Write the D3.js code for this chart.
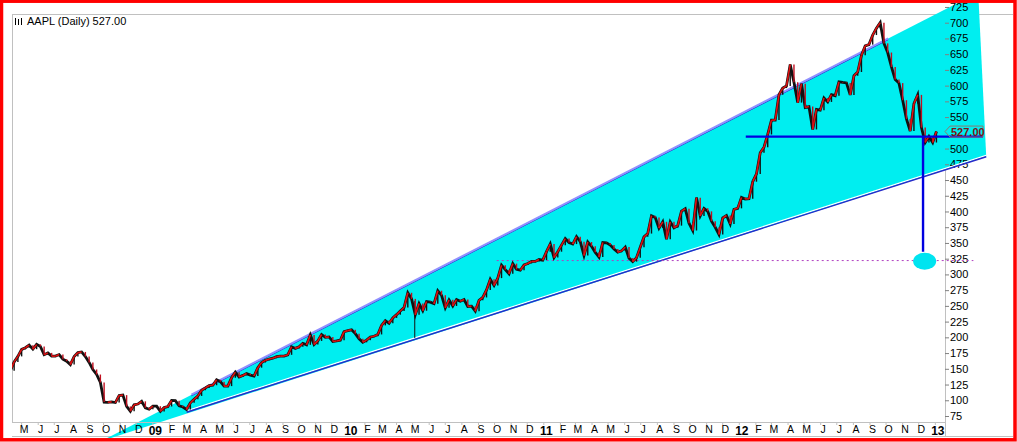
<!DOCTYPE html>
<html>
<head>
<meta charset="utf-8">
<script src="https://cdn.jsdelivr.net/npm/d3@7"></script>
<style>
  body { margin: 0; background: #fff; }
  svg { display: block; font-family: "Liberation Sans", Arial, sans-serif; }
</style>
</head>
<body>
<svg id="chart" width="1017" height="442"></svg>
<script>
// weekly closes (Friday), AAPL daily chart
const closes2008 = [147.1, 161.0, 169.7, 180.9, 183.5, 187.6, 181.2, 188.8,
  185.6, 172.4, 175.3, 170.1, 170.1, 172.6, 165.2, 162.1, 156.7, 169.6, 175.7,
  176.8, 169.5, 160.2, 148.9, 140.9, 128.2, 97.1, 96.8, 97.4, 96.4, 107.6,
  108.2, 90.2, 82.6, 92.7, 94.0, 98.3, 88.0, 85.8];
const closes2009 = [90.8, 90.6, 82.3, 88.4, 90.1, 99.7, 99.3, 91.2, 89.3,
  85.3, 95.9, 101.6, 106.9, 116.0, 119.6, 123.4, 123.9, 132.5, 129.6, 122.4,
  122.5, 135.8, 144.7, 137.0, 139.5, 142.4, 140.0, 138.5, 151.8, 160.0, 163.4,
  165.5, 166.8, 169.2, 170.1, 170.3, 172.2, 185.0, 182.4, 184.9, 190.5, 188.1,
  203.9, 188.5, 194.3, 204.5, 199.9, 200.6, 193.3, 194.2, 195.4, 209.0];
const closes2010 = [210.7, 212.0, 205.9, 197.8, 192.1, 195.5, 200.4, 201.7,
  204.6, 219.0, 226.6, 222.3, 230.9, 236.0, 241.8, 247.4, 270.8, 261.1, 235.9,
  253.8, 242.3, 256.9, 256.0, 253.5, 274.1, 266.7, 246.9, 259.6, 249.9, 259.9,
  257.3, 260.1, 249.1, 249.6, 241.6, 258.8, 263.4, 275.4, 292.3, 282.5, 294.1,
  314.7, 307.5, 301.0, 317.1, 308.0, 306.7, 315.0, 317.4, 320.6, 320.6, 323.6,
  322.6];
const closes2011 = [336.1, 348.5, 326.7, 336.1, 346.5, 356.9, 350.6, 348.2,
  360.0, 352.0, 330.0, 351.5, 344.6, 335.1, 327.5, 350.7, 350.1, 346.7, 340.5,
  335.2, 337.4, 343.4, 325.9, 320.3, 326.4, 343.3, 359.7, 364.9, 393.3, 390.5,
  373.6, 383.6, 356.0, 383.6, 374.1, 377.5, 400.5, 404.3, 381.3, 369.8, 422.0,
  392.9, 405.0, 400.2, 384.6, 374.9, 363.6, 389.7, 393.6, 380.0, 403.4, 405.0];
const closes2012 = [422.4, 419.8, 420.3, 447.3, 459.7, 493.4, 502.1, 522.4,
  545.2, 545.2, 585.6, 596.1, 599.6, 633.7, 605.2, 573.0, 603.0, 565.3, 566.7,
  530.4, 562.3, 561.0, 580.3, 574.1, 585.7, 584.0, 605.9, 605.0, 604.3, 585.2,
  615.7, 621.7, 648.1, 663.2, 665.2, 680.4, 691.3, 700.1, 667.1, 652.6, 629.7,
  609.8, 604.0, 576.8, 547.1, 527.7, 571.5, 585.3, 533.3, 509.8, 519.3, 509.6];
const closes2013 = [527.00];
const firstFriday = "2008-04-11";

// single-day spike visible in the picture (May 2010)
const spikes = [{ date: "2010-05-06", low: 199, high: 258 }];

const monthLetters = ["J", "F", "M", "A", "M", "J", "J", "A", "S", "O", "N", "D"];
const priceTicks = d3.range(75, 726, 25);

// drawn objects (date, price)
const wedge = [
  { date: "2008-09-27", price: 35 },
  { date: "2013-03-23", price: 748 },
  { date: "2013-04-07", price: 487 }
];
const upperTrend = [{ date: "2009-03-15", price: 109 }, { date: "2012-10-06", price: 675 }];
const lowerTrend = [{ date: "2009-03-06", price: 81 }, { date: "2013-04-07", price: 487 }];
const support = [{ date: "2012-01-14", price: 519 }, { date: "2013-04-01", price: 519 }];
const drop = [{ date: "2012-12-10", price: 519 }, { date: "2012-12-10", price: 336 }];
const target = { date: "2012-12-13", price: 321 };
const targetLevel = [{ date: "2010-10-06", price: 322 }, { date: "2013-03-14", price: 322 }];

const W = 1017, H = 442;
const plot = { left: 12, right: 945, top: 14, bottom: 422 };
const parse = d3.timeParse("%Y-%m-%d");

const closes = [].concat(closes2008, closes2009, closes2010, closes2011, closes2012, closes2013);
const start = parse(firstFriday);
const fridays = d3.timeFriday.range(start, d3.timeDay.offset(start, closes.length * 7));
const data = closes.map((c, i) => ({ date: fridays[i], close: c }));
const last = data[data.length - 1];

const x = d3.scaleTime()
  .domain([parse("2008-04-14"), parse("2013-01-20")])
  .range([plot.left, plot.right]);
const y = d3.scaleLinear()
  .domain([75, 700])
  .range([416, 22.7]);

const px = d => x(typeof d.date === "string" ? parse(d.date) : d.date);
const py = d => y(d.price);

const svg = d3.select("#chart");

svg.append("rect").attr("width", W).attr("height", H).attr("fill", "#fff");

svg.append("defs").append("clipPath").attr("id", "plot-clip")
  .append("rect")
  .attr("x", plot.left).attr("y", plot.top)
  .attr("width", plot.right - plot.left).attr("height", plot.bottom - plot.top);

// frame lines
const frame = svg.append("g").attr("stroke", "#c0c0c0").attr("stroke-width", 1).attr("fill", "none");
frame.append("line").attr("x1", plot.left).attr("x2", W - 4).attr("y1", plot.top + 0.5).attr("y2", plot.top + 0.5);
frame.append("line").attr("x1", plot.left + 0.5).attr("x2", plot.left + 0.5).attr("y1", plot.top).attr("y2", plot.bottom);
frame.append("line").attr("x1", plot.right + 0.5).attr("x2", plot.right + 0.5).attr("y1", plot.top).attr("y2", 437);
frame.append("line").attr("x1", plot.left).attr("x2", W - 4).attr("y1", 436.5).attr("y2", 436.5);

// wedge
svg.append("path")
  .datum(wedge)
  .attr("fill", "#00eef0")
  .attr("d", d3.line().x(px).y(py).curve(d3.curveLinearClosed));

// axes
const xAxis = d3.axisBottom(x)
  .tickValues(d3.timeMonth.range(parse("2008-05-01"), parse("2013-01-02")))
  .tickSize(3)
  .tickPadding(1)
  .tickFormat(d => d.getMonth() === 0 ? d3.timeFormat("%y")(d) : monthLetters[d.getMonth()]);

const gx = svg.append("g")
  .attr("transform", `translate(0,${plot.bottom})`)
  .call(xAxis);
gx.select(".domain").attr("stroke", "#c0c0c0").attr("d", `M${plot.left},0.5H${plot.right}`);
gx.selectAll(".tick line").attr("stroke", "#c0c0c0");
gx.selectAll(".tick text")
  .attr("dx", 2.5)
  .attr("fill", "#000")
  .style("font-size", d => d.getMonth() === 0 ? "12px" : "10.5px")
  .style("font-weight", d => d.getMonth() === 0 ? "bold" : "normal");

// the last-price tag hides the tick label it sits on
const yAxis = d3.axisRight(y)
  .tickValues(priceTicks.filter(t => Math.abs(t - last.close) > 8))
  .tickSize(4)
  .tickPadding(1)
  .tickFormat(d3.format("d"));

const gy = svg.append("g")
  .attr("transform", `translate(${plot.right},0)`)
  .call(yAxis);
gy.select(".domain").remove();
gy.selectAll(".tick line").attr("stroke", "#808080");
gy.selectAll(".tick text").attr("fill", "#000").style("font-size", "11px");

// trend lines
const seg = d3.line().x(px).y(py);
svg.append("path").datum(upperTrend).attr("d", seg)
  .attr("stroke", "#3030d0").attr("stroke-width", 1).attr("fill", "none")
  .attr("transform", "translate(0,1.2)");
svg.append("path").datum(upperTrend).attr("d", seg)
  .attr("stroke", "#9090ff").attr("stroke-width", 2).attr("fill", "none");

svg.append("path").datum(lowerTrend).attr("d", seg)
  .attr("stroke", "#ffffff").attr("stroke-width", 1.2).attr("fill", "none")
  .attr("transform", "translate(0,-1.4)");
svg.append("path").datum(lowerTrend).attr("d", seg)
  .attr("stroke", "#2828c8").attr("stroke-width", 1.4).attr("fill", "none");

// target level dotted line
svg.append("path").datum(targetLevel).attr("d", seg)
  .attr("stroke", "#b040c0").attr("stroke-width", 1).attr("stroke-dasharray", "2,3")
  .attr("fill", "none");

// price series
const prices = svg.append("g").attr("clip-path", "url(#plot-clip)");

prices.selectAll(".spike")
  .data(spikes)
  .enter().append("line")
  .attr("class", "spike")
  .attr("x1", d => x(parse(d.date))).attr("x2", d => x(parse(d.date)))
  .attr("y1", d => y(d.high)).attr("y2", d => y(d.low))
  .attr("stroke", "#111").attr("stroke-width", 1);

prices.append("path")
  .datum(data)
  .attr("fill", "none")
  .attr("stroke", "#111")
  .attr("stroke-width", 2.8)
  .attr("d", d3.line().x(d => x(d.date)).y(d => y(d.close)));

const pairs = d3.pairs(data);

// weekly range bars between consecutive closes
prices.selectAll(".bar")
  .data(pairs)
  .enter().append("line")
  .attr("class", "bar")
  .attr("x1", p => x(p[1].date)).attr("x2", p => x(p[1].date))
  .attr("y1", p => y(p[0].close)).attr("y2", p => y(p[1].close))
  .attr("stroke", p => p[1].close >= p[0].close ? "#111" : "#c01020")
  .attr("stroke-width", 1.4);

prices.selectAll(".up")
  .data(pairs.filter(p => p[1].close >= p[0].close))
  .enter().append("line")
  .attr("class", "up")
  .attr("x1", p => x(p[0].date)).attr("y1", p => y(p[0].close))
  .attr("x2", p => x(p[1].date)).attr("y2", p => y(p[1].close))
  .attr("stroke", "#e01010")
  .attr("stroke-width", 1.6);

// support, drop line and target ellipse
svg.append("path").datum(support).attr("d", seg)
  .attr("stroke", "#0000e0").attr("stroke-width", 2.4).attr("fill", "none");
svg.append("path").datum(drop).attr("d", seg)
  .attr("stroke", "#0000e0").attr("stroke-width", 2.4).attr("fill", "none");
svg.append("ellipse")
  .attr("cx", px(target)).attr("cy", py(target))
  .attr("rx", 11.5).attr("ry", 8.5)
  .attr("fill", "#00e4f0");

// last price tag
const ly = y(last.close);
svg.append("path")
  .attr("d", `M${plot.right},${ly}L${plot.right + 5},${ly - 5.5}H${plot.right + 38}V${ly + 5.5}H${plot.right + 5}Z`)
  .attr("fill", "none").attr("stroke", "#8a7a70").attr("stroke-width", 1);
svg.append("text")
  .attr("x", plot.right + 6).attr("y", ly + 4)
  .attr("fill", "#7a1414")
  .style("font-size", "11px").style("font-weight", "bold")
  .text(last.close.toFixed(2));

// title
const icon = svg.append("g").attr("stroke", "#000").attr("stroke-width", 1);
[15.5, 18.5, 21.5].forEach((ix, i) => {
  icon.append("line").attr("x1", ix).attr("x2", ix).attr("y1", 18 + (i % 2)).attr("y2", 25);
});
svg.append("text")
  .attr("x", 27).attr("y", 25)
  .attr("fill", "#000")
  .style("font-size", "11px")
  .text(`AAPL (Daily) ${last.close.toFixed(2)}`);

// red outer border
svg.append("rect")
  .attr("x", 1.5).attr("y", 1.2).attr("width", W - 3.5).attr("height", H - 3.4)
  .attr("fill", "none").attr("stroke", "#ff0000").attr("stroke-width", 3.5);
</script>
</body>
</html>
